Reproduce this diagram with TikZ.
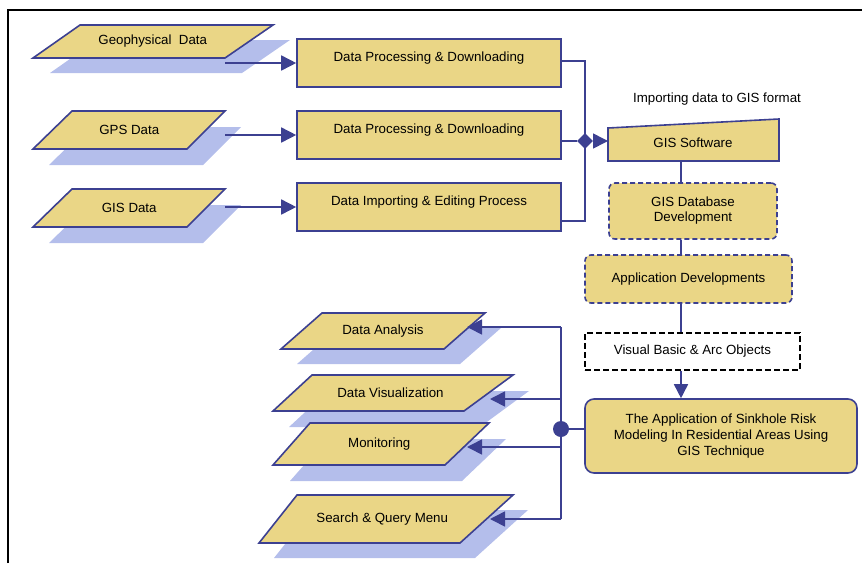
\documentclass[tikz,border=0pt]{standalone}
\usepackage{fontspec}
\setmainfont{Liberation Sans}
\usetikzlibrary{arrows.meta,shapes.geometric}
\definecolor{fillY}{HTML}{EAD686}
\definecolor{navy}{HTML}{3C4091}
\definecolor{shad}{HTML}{B4BEEB}
\tikzset{
  txt/.style={font=\fontsize{13.3}{16}\selectfont, text=black, align=center, inner sep=0pt},
  outl/.style={draw=navy, line width=1.6pt, fill=fillY},
  procbox/.style={outl, rectangle, minimum width=264pt, minimum height=48pt, inner sep=0pt,
    font=\fontsize{13.3}{16}\selectfont, text height=9.5pt, text depth=12pt},
  dashbox/.style={outl, rounded corners=6pt, dash pattern=on 5pt off 3pt, inner sep=0pt,
    font=\fontsize{13.3}{15}\selectfont, align=center},
  conn/.style={draw=navy, line width=1.6pt},
  arr/.style={conn, -{Triangle[length=15pt,width=15pt]}},
}
% #1 name, #2 top-left x, #3 top-right x, #4 top y, #5 bottom-left x, #6 bottom-right x, #7 bottom y, #8 text, #9 shadow shift
\newcommand{\plate}[9]{%
  \begin{scope}[shift={#9}]
    \fill[shad] (#2,#4) -- (#3,#4) -- (#6,#7) -- (#5,#7) -- cycle;
  \end{scope}
  \draw[outl] (#2,#4) -- (#3,#4) -- (#6,#7) -- (#5,#7) -- cycle;
  \node[txt] (#1) at ({(#2+#3+#5+#6)/4},{(#4+#7)/2}) {#8};
}
\begin{document}
\begin{tikzpicture}[x=1pt,y=-1pt]
\useasboundingbox (0,0) rectangle (862,563);
% frame
\draw[line width=2.4pt] (8,563) -- (8,10) -- (862,10);

% input data plates
\plate{geo}{80}{273}{25}{33}{225}{58}{Geophysical\ \ Data}{(17,15)}
\plate{gps}{72}{225}{111}{33}{187}{149}{GPS Data}{(16,16)}
\plate{gisd}{72}{225}{189}{33}{187}{227}{GIS Data}{(16,16)}

% processing boxes
\node[procbox] (p1) at (429,63) {Data Processing \& Downloading};
\node[procbox] (p2) at (429,135) {Data Processing \& Downloading};
\node[procbox] (p3) at (429,207) {Data Importing \& Editing Process};

\coordinate (s1) at (225,63);
\coordinate (s2) at (225,135);
\coordinate (s3) at (225,207);
\draw[arr] (s1) -- (s1 -| p1.west);
\draw[arr] (s2) -- (s2 -| p2.west);
\draw[arr] (s3) -- (s3 -| p3.west);

% bus and diamond
\coordinate (bt) at (585,61);
\coordinate (bb) at (585,221);
\node[diamond, fill=navy, minimum size=16pt, inner sep=0pt] (dm) at (585,141) {};
\draw[conn] (bt -| p1.east) -- (bt) -- (bb) -- (bb -| p3.east);
\draw[conn] (dm -| p2.east) -- (dm.west);

% GIS software
\coordinate (g1) at (608,128);
\coordinate (g2) at (779,119);
\coordinate (g3) at (779,161);
\coordinate (g4) at (608,161);
\draw[outl] (g1) -- (g2) -- (g3) -- (g4) -- cycle;
\node[txt] (gis) at (693,143) {GIS Software};
\draw[arr] (dm.east) -- (dm -| g1);
\node[txt] (imp) at (717,99) {Importing data to GIS format};

% vertical chain
\coordinate (vl) at (681,0);
\node[dashbox, minimum width=168pt, minimum height=56pt] (gdb) at (693,211) {GIS Database\\Development};
\node[dashbox, minimum width=207pt, minimum height=48pt] (app) at (688.5,279) {Application Developments};
\node[draw=black, line width=1.6pt, dash pattern=on 6pt off 3pt, fill=white,
      minimum width=215pt, minimum height=37pt, inner sep=0pt,
      font=\fontsize{13.3}{16}\selectfont] (vb) at (692.5,351.5) {Visual Basic \& Arc Objects};
\node[outl, rounded corners=9pt, minimum width=272pt, minimum height=74pt, inner sep=0pt,
      font=\fontsize{13.3}{16}\selectfont, align=center] (sink) at (721,436)
  {The Application of Sinkhole Risk\\Modeling In Residential Areas Using\\GIS Technique};

\draw[conn] (g4 -| vl) -- (gdb.north -| vl);
\draw[conn] (gdb.south -| vl) -- (app.north -| vl);
\draw[conn] (app.south -| vl) -- (vb.north -| vl);
\draw[conn, -{Triangle[length=14pt,width=14pt]}] (vb.south -| vl) -- (sink.north -| vl);

% output plates
\plate{da}{322}{485}{313}{281}{444}{349}{Data Analysis}{(16,15)}
\plate{dv}{312}{513}{375}{273}{464}{411}{Data Visualization}{(16,16)}
\plate{mo}{310}{489}{423}{273}{445}{465}{Monitoring}{(17,16)}
\plate{sq}{297}{513}{495}{259}{460}{543}{Search \& Query Menu}{(15,15)}

% output bus
\coordinate (o1) at (561,327);
\coordinate (o2) at (561,399);
\coordinate (o3) at (561,447);
\coordinate (o4) at (561,519);
\coordinate (t1) at (467,327);
\coordinate (t2) at (490,399);
\coordinate (t3) at (467,447);
\coordinate (t4) at (490,519);
\draw[conn] (o1) -- (o4);
\draw[arr] (o1) -- (t1);
\draw[arr] (o2) -- (t2);
\draw[arr] (o3) -- (t3);
\draw[arr] (o4) -- (t4);
\node[circle, fill=navy, minimum size=16pt, inner sep=0pt] (dot) at (561,429) {};
\draw[conn] (dot) -- (dot -| sink.west);
\end{tikzpicture}
\end{document}
